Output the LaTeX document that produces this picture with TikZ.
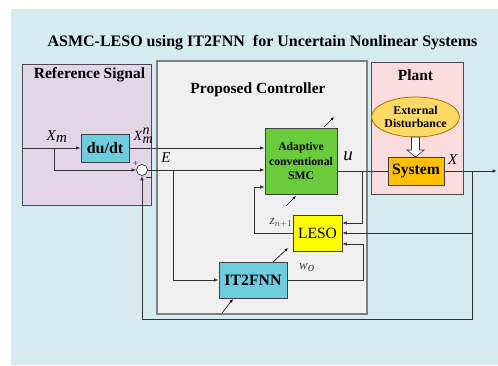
\documentclass[tikz,border=0pt]{standalone}
\usepackage{fontspec}
\setmainfont{Liberation Serif}
\usetikzlibrary{arrows.meta,shapes.geometric,calc}
\definecolor{bgblue}{RGB}{212,236,240}
\definecolor{lav}{RGB}{225,213,231}
\definecolor{ctrlgray}{RGB}{240,240,240}
\definecolor{plantpink}{RGB}{250,220,220}
\definecolor{cyanbox}{RGB}{108,206,222}
\definecolor{greenbox}{RGB}{106,204,58}
\definecolor{lesoyel}{RGB}{255,255,0}
\definecolor{sysorange}{RGB}{255,192,0}
\definecolor{distyel}{RGB}{255,217,102}
\definecolor{distedge}{RGB}{160,120,0}
\begin{document}
\begin{tikzpicture}[x=1pt,y=-1pt,
  blk/.style={draw=black!75, line width=0.8pt, inner sep=0pt, align=center},
  conn/.style={draw=black!80, line width=0.7pt},
  arr/.style={conn, -{Latex[length=4.5pt,width=3.5pt]}},
  grp/.style={draw=black!70, line width=0.8pt},
  hdr/.style={font=\bfseries\fontsize{15.5}{18}\selectfont, inner sep=0pt},
  lbl/.style={font=\fontsize{15}{18}\selectfont, inner sep=0pt},
  adapt/.style={draw=black, line width=0.6pt, -{Latex[length=3.5pt,width=3pt]}}]
\useasboundingbox (0,0) rectangle (498,365);
\fill[bgblue] (11,9) rectangle (498,365);

% title
\node[font=\bfseries\fontsize{16}{19}\selectfont, inner sep=0pt] (title) at (262.5,43) {ASMC-LESO using IT2FNN\ \ for Uncertain Nonlinear Systems};

% group regions
\draw[grp, fill=lav] (22,64) rectangle (151,205);
\draw[draw=black!50, line width=1.2pt, fill=ctrlgray] (157,61) rectangle (367,314);
\draw[grp, fill=plantpink] (371,62) rectangle (463,194);
\node[hdr] (reflbl) at (89.5,75) {Reference Signal};
\node[hdr] (ctrllbl) at (258,90) {Proposed Controller};
\node[hdr] (plantlbl) at (415.5,75) {Plant};

% blocks
\node[blk, fill=cyanbox, minimum width=48pt, minimum height=28pt, font=\bfseries\fontsize{16}{18}\selectfont] (dudt) at (105,148) {du/dt};
\node[draw=black!80, line width=0.7pt, fill=white, circle, minimum size=11pt, inner sep=0pt] (sum) at (142,170) {};
\node[blk, fill=greenbox, minimum width=72pt, minimum height=66pt, font=\bfseries\fontsize{11.7}{14.5}\selectfont] (smc) at (301,161) {Adaptive\\conventional\\SMC};
\node[blk, fill=lesoyel, minimum width=49pt, minimum height=36pt, font=\fontsize{15.6}{18}\selectfont] (leso) at (317.5,233) {LESO};
\node[blk, fill=cyanbox, minimum width=68pt, minimum height=36pt, font=\bfseries\fontsize{15.8}{18}\selectfont] (it2) at (253,280) {IT2FNN};
\node[blk, fill=sysorange, minimum width=56pt, minimum height=28pt, font=\bfseries\fontsize{15.7}{18}\selectfont] (sys) at (416,171) {System};
\node[ellipse, draw=distedge, line width=0.8pt, fill=distyel, minimum width=83pt, minimum height=40pt, inner sep=0pt, align=center, font=\bfseries\fontsize{11.9}{13.5}\selectfont] (dist) at (415.5,117) {External\\Disturbance};

% hollow arrow disturbance -> system
\draw[draw=black!80, line width=0.6pt, fill=white] (411.5,137) -- (419.5,137) -- (419.5,150) -- (424,150) -- (415.5,157) -- (407,150) -- (411.5,150) -- cycle;

% coordinates
\coordinate (xin) at (22,148);
\coordinate (xbr) at (54,148);
\coordinate (ebr) at (173,170);
\coordinate (ubr) at (362,171);
\coordinate (xout) at (497,171);
\coordinate (xbr2) at (472,171);
\coordinate (fbk) at (472,319);
\coordinate (zc) at (254,233);

% connectors
\draw[arr] (xin) -- (dudt.west);
\draw[arr] (xbr) |- (sum.west);
\draw[arr] (dudt.east) -- (smc.west |- dudt.east);
\draw[arr] (sum.east) -- (smc.west |- sum.east);
\draw[arr] (ebr) |- (it2.west);
\draw[conn] (smc.east |- sys.west) -- (sys.west);
\draw[arr] (ubr) |- ($(leso.east)+(0,-10)$);
\draw[arr] (sys.east) -- (xout);
\draw[conn] (xbr2) -- (fbk) -- (fbk -| sum.south);
\draw[arr] (fbk -| sum.south) -- (sum.south);
\draw[arr] (xbr2 |- leso.east) -- (leso.east);
\draw[arr] (it2.east) -- (363,280) |- ($(leso.east)+(0,11)$);
\draw[arr] (leso.west) -- (zc) |- ($(smc.west)+(0,26)$);

% signs
\node[font=\fontsize{9}{10}\selectfont, inner sep=0pt] (plus) at (135.5,163.5) {+};
\draw[conn] (146,177.5) -- (152,177.5);

% signal labels
\node[lbl] (xmlbl) at (57,137) {\textit{X}$_{\textit{m}}$};
\node[lbl, font=\fontsize{14}{16}\selectfont] (xmnlbl) at (143.5,136) {\textit{X}$^{\textit{n}}_{\textit{m}}$};
\node[lbl] (elbl) at (166,158) {\textit{E}};
\node[font=\fontsize{19}{20}\selectfont, inner sep=0pt] (ulbl) at (348,156) {\textit{u}};
\node[lbl] (xlbl) at (453,160) {\textit{X}};
\node[font=\fontsize{13}{15}\selectfont, text=black!75, inner sep=0pt] (zlbl) at (281,223) {\textit{z}$_{n+1}$};
\node[font=\fontsize{13}{15}\selectfont, text=black!75, inner sep=0pt] (wlbl) at (307,268) {\textit{w}$_{\textit{o}}$};

% adaptation arrows
\coordinate (a1s) at (324,127); \coordinate (a1e) at (334,117);
\coordinate (a2s) at (286,206); \coordinate (a2e) at (296,196);
\coordinate (a3s) at (273,262); \coordinate (a3e) at (288,248);
\coordinate (a4s) at (222,313); \coordinate (a4e) at (233,299);
\draw[adapt] (a1s) -- (a1e);
\draw[adapt] (a2s) -- (a2e);
\draw[adapt] (a3s) -- (a3e);
\draw[adapt] (a4s) -- (a4e);
\end{tikzpicture}
\end{document}
